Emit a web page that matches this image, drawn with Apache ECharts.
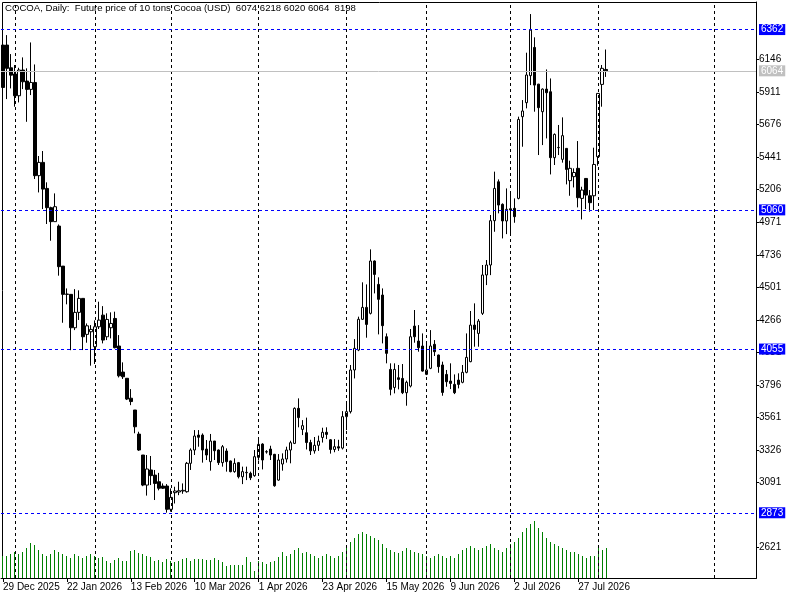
<!DOCTYPE html>
<html><head><meta charset="utf-8">
<script src="https://cdn.jsdelivr.net/npm/echarts@6/dist/echarts.min.js"></script>
<style>html,body{margin:0;padding:0;background:#fff}#c{width:800px;height:600px}</style>
</head><body><div id="c"></div>
<script>
// ---- data ----
const firstDate = '2025-12-29';
const holidays = ['2026-01-01','2026-01-19','2026-02-16','2026-05-25','2026-06-19','2026-07-03'];
const totalSlots = 189;
const open = [6250,6250,6086,6041,5884,6070,5990,5930,5980,5307,5403,5215,5076,4975,4943,4654,4450,4450,4209,4320,4421,4161,4180,4072,4216,
 4300,4144,4209,4276,4077,3889,3844,3700,3615,3441,3290,3073,3182,3145,3097,3066,3066,2898,3018,3023,3030,3025,3230,3326,3434,
 3434,3333,3242,3391,3326,3235,3319,3247,3170,3235,3133,3162,3158,3141,3273,3369,3314,3333,3295,3109,3225,3261,3326,3374,3627,
 3475,3451,3380,3320,3360,3417,3454,3400,3330,3350,3340,3567,3603,3904,4048,4270,4356,4313,4691,4522,4445,4144,3908,3778,3848,
 3843,3740,3788,4221,4113,4077,3872,3916,4089,4012,3940,3872,3824,3800,3831,3815,3887,3964,4228,4168,4313,4590,4662,4982,5263,
 5100,4980,5068,5071,5143,5733,5834,6029,6233,5968,5769,5932,5913,5437,5509,5425,5504,5271,5300,5360,5143,5287,5162,5162,5444,
 5966,6074];
const high = [6300,6322,6185,6106,6086,6161,6082,6269,6110,5449,5485,5259,5083,5179,4955,4654,4493,4450,4488,4479,4421,4240,4228,4262,4397,
 4365,4313,4320,4325,4156,3959,3844,3766,3615,3458,3290,3290,3283,3182,3161,3085,3080,3049,3061,3097,3085,3240,3338,3470,3470,
 3446,3398,3442,3391,3330,3362,3338,3250,3266,3240,3206,3206,3170,3326,3406,3375,3325,3357,3298,3297,3302,3350,3393,3634,3699,
 3542,3560,3400,3420,3430,3487,3490,3405,3405,3400,3607,3675,3940,4127,4289,4537,4522,4775,4695,4573,4493,4168,3952,3952,3940,
 3947,3827,4200,4337,4228,4168,4096,4192,4120,4015,3964,3904,3952,3872,3880,3940,4168,4330,4385,4272,4662,4698,5023,5336,5280,
 5107,5215,5184,5143,5733,5853,6195,6474,6306,5970,5937,6074,6009,5612,5673,5728,5506,5415,5360,5557,5227,5290,5203,5509,5901,
 6106,6218];
const low = [5880,5860,5937,5805,5836,5932,5696,5889,5283,5186,5066,4958,4837,4975,4585,4245,4378,4047,4192,4265,4048,4101,3935,3947,4200,
 4096,4120,4132,4060,3850,3839,3687,3650,3447,3320,3065,2997,3073,2965,3035,3045,2874,2881,2940,3000,3010,3018,3182,3290,3350,
 3235,3254,3177,3254,3218,3206,3170,3165,3162,3121,3080,3109,3109,3133,3250,3186,3300,3254,3061,3104,3177,3235,3230,3369,3490,
 3434,3330,3290,3300,3320,3380,3405,3300,3310,3320,3330,3470,3590,3843,4040,4265,4137,4305,4457,4161,4096,3952,3721,3735,3764,
 3730,3646,3778,4101,4036,3892,3867,3910,4005,3884,3718,3783,3766,3730,3771,3808,3880,3960,4072,4072,4301,4517,4589,4902,5035,
 4854,4885,4890,4967,5136,5516,5793,5961,5769,5456,5528,5576,5316,5384,5456,5401,5244,5162,5222,5078,4991,5066,5047,5059,5379,
 5805,6020];
const close = [5944,6082,6033,5884,6070,5985,5930,5980,5307,5403,5210,5076,4975,5083,4650,4450,4452,4209,4320,4421,4144,4223,4197,4216,4264,
 4120,4269,4240,4065,3862,3855,3694,3676,3494,3326,3073,3189,3141,3085,3050,3050,2898,2984,3030,3032,3035,3230,3326,3427,3418,
 3326,3290,3391,3321,3235,3350,3242,3170,3230,3133,3170,3165,3126,3278,3367,3254,3312,3290,3068,3254,3261,3326,3379,3627,3560,
 3502,3380,3320,3360,3390,3454,3439,3330,3350,3340,3567,3603,3904,4060,4270,4356,4233,4691,4594,4414,4224,4024,3764,3908,3836,
 3740,3815,4144,4144,4065,3896,3904,4077,4036,3928,3742,3819,3807,3740,3800,3887,3995,4228,4197,4257,4590,4662,4982,5215,5095,
 4980,5064,5060,5011,5713,5774,6034,6358,5961,5798,5932,5906,5437,5605,5511,5596,5352,5360,5330,5148,5203,5167,5112,5388,5901,
 6082,6064];
const volume = [6000,6000,6550,7100,6550,7100,8200,9550,9000,7650,6550,6000,6550,7650,7100,6550,6000,5450,6550,6000,5450,6000,6550,6000,5450,
 5650,4720,4100,4910,5380,4720,4720,7290,7730,6830,6550,6090,5650,4720,4910,4290,5190,4720,4290,4720,5190,5460,4720,5190,5190,
 5190,4910,4910,5380,5000,4290,3360,3630,3630,3630,3630,5650,4450,1990,4720,4450,3820,4290,4720,5650,7020,6000,6550,7650,8200,
 6830,7100,6550,6000,5450,6000,6550,6000,5450,6000,7100,8200,9830,10920,12010,12560,12010,11470,10920,10370,9280,8200,7650,7100,6830,
 7370,8200,7650,7100,6830,6550,6000,5450,6000,6550,6000,5450,6000,5450,6550,7650,8200,8740,8200,7650,8200,8740,9280,8200,7650,
 7100,8200,9280,9830,10920,12560,13650,14740,15560,13650,12560,10920,9830,9280,8740,8200,7650,7100,7100,6550,6000,5450,6000,6000,8200,
 7650,8198];
const priceTicks = [2621,3091,3326,3561,3796,4031,4266,4501,4736,4971,5206,5441,5676,5911,6146];
const levelLines = [6362,5060,4055,2873];
const lastPrice = 6064;
const titleText = 'COCOA, Daily:  Future price of 10 tons Cocoa (USD)  6074 6218 6020 6064  8198';

// ---- categories ----
const MONTHS = ['Jan','Feb','Mar','Apr','May','Jun','Jul','Aug','Sep','Oct','Nov','Dec'];
const dates = [];
let d = new Date(firstDate + 'T00:00:00Z');
while (dates.length < open.length) {
  const iso = d.toISOString().slice(0,10);
  const wd = d.getUTCDay();
  if (wd !== 0 && wd !== 6 && holidays.indexOf(iso) < 0) dates.push(new Date(d.getTime()));
  d = new Date(d.getTime() + 86400000);
}
let f = dates[dates.length-1];
while (dates.length < totalSlots) { f = new Date(f.getTime() + 86400000); dates.push(f); }
const cats = dates.map(x => x.getUTCDate() + ' ' + MONTHS[x.getUTCMonth()] + ' ' + x.getUTCFullYear());
const monthStarts = [];
for (let i = 1; i < dates.length; i++) if (dates[i].getUTCMonth() !== dates[i-1].getUTCMonth()) monthStarts.push(cats[i]);

const ohlc = open.map((o,i) => [o, close[i], low[i], high[i]]);
const volData = volume.map((v,i) => [i, v]);

const FONT = 'Tahoma, "Liberation Sans", Arial, sans-serif';
const boxLabel = (bg) => ({show:true, position:'end', distance:3, formatter: p => String(p.value), color:'#fff',
  backgroundColor:bg, padding:[1,2,0,2], fontSize:10, fontFamily:FONT});
const chart = echarts.init(document.getElementById('c'), null, {renderer:'canvas'});
chart.setOption({
  animation: false,
  backgroundColor: '#fff',
  grid: {left: 0, top: 2, width: 756, height: 576, show: false},
  graphic: [
    {type:'rect', shape:{x:2.5, y:2.5, width:754, height:576}, style:{fill:null, stroke:'#000', lineWidth:1}, silent:true, z:0},
    {type:'text', left: 5, top: 3, style:{text: titleText, font: '9.6px ' + FONT, fill:'#000'}, z:10}
  ],
  xAxis: {
    type:'category', data: cats, boundaryGap: true,
    axisLine:{show:true, lineStyle:{color:'#000', width:1}},
    axisTick:{show:true, alignWithLabel:true, length:4, interval:(i)=> i % 16 === 0 && i < open.length, lineStyle:{color:'#000'}},
    axisLabel:{show:true, interval:(i)=> i % 16 === 0 && i < open.length, align:'left', margin:4, color:'#000', fontSize:10, fontFamily:FONT},
    splitLine:{show:false}
  },
  yAxis: [
    {type:'value', position:'right', min:2402, max:6561,
     axisLine:{show:true, lineStyle:{color:'#000'}},
     axisTick:{show:true, length:3, customValues: priceTicks, lineStyle:{color:'#000'}},
     axisLabel:{show:true, customValues: priceTicks, formatter: v => String(v), margin:3, color:'#000', fontSize:10, fontFamily:FONT},
     splitLine:{show:false}},
    {type:'value', show:false, min:0, max:157000, splitLine:{show:false}}
  ],
  series: [
    {type:'line', name:'grid', data: [], z:1, silent:true,
     markLine:{silent:true, symbol:['none','none'], animation:false,
       lineStyle:{color:'#000', type:[3,3], width:1},
       label:{show:false},
       data: monthStarts.map(c => ({xAxis: c}))}
    },
    {type:'line', name:'bid', data: [], z:1, silent:true,
     markLine:{silent:true, symbol:['none','none'], animation:false,
       lineStyle:{color:'#c0c0c0', type:'solid', width:1},
       label: boxLabel('#c0c0c0'),
       data: [{yAxis: lastPrice}]}
    },
    {type:'custom', name:'Volume', data: volData, xAxisIndex:0, yAxisIndex:1, z:2, silent:true,
     encode:{x:0, y:1},
     renderItem: function(params, api) {
       const top = api.coord([api.value(0), api.value(1)]);
       const base = api.coord([api.value(0), 0]);
       const x = Math.floor(top[0]) + 0.5;
       return {type:'line', shape:{x1:x, y1:base[1], x2:x, y2:Math.round(top[1])},
               style:{stroke:'#008000', lineWidth:1}};
     }
    },
    {type:'candlestick', name:'COCOA', data: ohlc, barWidth:3, z:3,
     itemStyle:{color:'#fff', color0:'#000', borderColor:'#000', borderColor0:'#000', borderWidth:1}
    },
    {type:'line', name:'levels', data: [], z:4, silent:true, color:'#0000ff',
     markLine:{silent:true, symbol:['none','none'], animation:false,
       lineStyle:{color:'#0000ff', type:[3,3], width:1},
       label: boxLabel('#0000ff'),
       data: levelLines.map(v => ({yAxis: v}))}
    }
  ]
});
</script></body></html>
